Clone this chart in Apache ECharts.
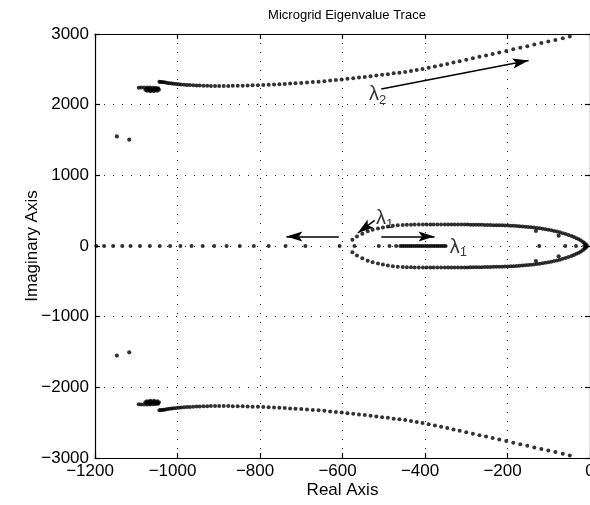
<!DOCTYPE html>
<html>
<head>
<meta charset="utf-8">
<title>Microgrid Eigenvalue Trace</title>
<script src="https://cdn.jsdelivr.net/npm/echarts@6/dist/echarts.min.js"></script>
<style>
  html, body { margin: 0; padding: 0; background: #fff; }
  #chart { width: 590px; height: 505px; }
</style>
</head>
<body>
<div id="chart"></div>
<script>
// Eigenvalue trace of the microgrid as a parameter is swept.
// Complex eigenvalues come in conjugate pairs, so only the upper half-plane
// (imaginary part >= 0) is stored; the lower half is its mirror image.

// lambda2 branch: high-frequency mode moving right as the parameter grows
const lambda2Branch = [
  [-49,2963],[-66,2940],[-84,2916],[-101,2894],[-118,2872],[-135,2850],[-152,2827],
  [-169,2805],[-186,2783],[-203,2761],[-220,2739],[-236,2718],[-252,2697],[-268,2677],
  [-284,2657],[-300,2637],[-316,2616],[-331,2597],[-346,2577],[-361,2559],[-376,2540],
  [-391,2522],[-406,2504],[-420,2490],[-434,2477],[-448,2464],[-462,2453],[-476,2443],
  [-490,2432],[-504,2422],[-518,2412],[-532,2403],[-546,2393],[-560,2384],[-574,2375],
  [-588,2366],[-602,2357],[-616,2349],[-630,2341],[-644,2333],[-658,2326],[-672,2320],
  [-686,2314],[-700,2308],[-714,2303],[-727,2298],[-740,2294],[-753,2289],[-766,2286],
  [-779,2282],[-792,2278],[-805,2275],[-818,2273],[-830,2271],[-842,2269],[-854,2267],
  [-866,2266],[-877,2265],[-888,2264],[-899,2264],[-909,2265],[-919,2265],[-928,2266],
  [-937,2268],[-946,2270],[-954,2272],[-962,2274],[-970,2277],[-977,2280],[-984,2283],
  [-991,2286],[-997,2289],[-1003,2293],[-1009,2297],[-1014,2300],[-1019,2304],
  [-1024,2308],[-1029,2312],[-1033,2316],[-1037,2319],[-1041,2322],[-1044,2325]
];

// small cluster of modes that barely move, near -1060 +/- j2220
const clusterModes = [
  [-1094,2240],[-1088,2242],[-1081,2243],[-1074,2243],[-1067,2242],[-1060,2240],
  [-1053,2237],[-1047,2233],[-1078,2212],[-1074,2198],[-1066,2190],[-1057,2189],
  [-1049,2196],[-1045,2210],[-1048,2224],[-1056,2229],[-1066,2229],[-1074,2224],
  [-1070,2207],[-1062,2202],[-1054,2207],[-1060,2216],[-1068,2216],[-1052,2217]
];

// two stationary modes near -1130 +/- j1530
const fixedModes = [[-1147,1551],[-1117,1504]];

// real eigenvalues on the negative real axis
const realModes = [
  -1197,-1178,-1156,-1134,-1114,-1091,-1067,-1043,-1018,-993,-966,-939,-911,-881,
  -849,-815,-779,-738,-690,-607,-571,-512,-486,-470,-460,-455,-450,-445,-440,-435,
  -430,-425,-420,-415,-410,-405,-400,-395,-390,-385,-380,-375,-370,-365,-360,-355,
  -350,-123,-60,-34,-14
];

// lambda1 loop: pair that splits off the real axis near -575 and closes near 0
const lambda1Loop = [
  [-576,89],[-565,136],[-552,174],[-539,207],[-527,231],[-514,249],[-502,263],
  [-490,277],[-478,287],[-466,292],[-454,297],[-444,300],[-434,302],[-425,303],
  [-415,304],[-405,305],[-396,305],[-387,305],[-379,305],[-370,305],[-361,305],
  [-352,305],[-344,305],[-336,305],[-328,304],[-320,304],[-312,304],[-304,303],
  [-297,303],[-290,302],[-283,302],[-276,301],[-269,300],[-262,299],[-255,298],
  [-248,297],[-241,296],[-234,295],[-227,294],[-220,293],[-213,292],[-206,291],
  [-199,290],[-192,288],[-185,286],[-178,283],[-171,280],[-164,277],[-157,273],
  [-150,269],[-143,265],[-136,261],[-129,256],[-122,250],[-115,244],[-108,237],
  [-101,230],[-94,222],[-87,213],[-80,204],[-73,193],[-66,182],[-59,169],[-52,155],
  [-45,140],[-39,126],[-33,111],[-27,94],[-22,77],[-17,58],[-13,40],[-10,22],[-8,6]
];

// lightly damped pair inside the loop
const innerModes = [[-131,212],[-76,146]];

// direction arrows: [from, to] in (real, imaginary)
const arrowPaths = [
  [[-506,2222],[-149,2626]],
  [[-609,136],[-736,136]],
  [[-522,362],[-563,184]],
  [[-506,136],[-377,136]]
];

// mode labels: position and subscript
const modeLabels = [
  { at: [-515,2141], sub: '2' },
  { at: [-498,386], sub: '1' },
  { at: [-319,-17], sub: '1' }
];

const xTicks = [-1200,-1000,-800,-600,-400,-200,0];
const xTickLabels = ['\u22121200','\u22121000','\u2212800','\u2212600','\u2212400','\u2212200','0'];
const yTicks = [-3000,-2000,-1000,0,1000,2000,3000];
const yTickLabels = ['\u22123000','\u22122000','\u22121000','0','1000','2000','3000'];

const FONT = '"Liberation Sans", Arial, Helvetica, sans-serif';

const withConjugates = pts => pts.concat(pts.filter(p => p[1] !== 0).map(p => [p[0], -p[1]]));

// arrowhead with its tip at the centre of the symbol box
const ARROW_HEAD = 'path://M5,-16M5,0L10,16L5,12.5L0,16Z';

function dotSeries(points, size) {
  return {
    type: 'scatter',
    data: points,
    symbol: 'circle',
    symbolSize: size,
    itemStyle: { color: '#000' },
    silent: true,
    animation: false,
    z: 3
  };
}

const xLabelOf = v => {
  const i = xTicks.indexOf(v);
  const t = i >= 0 ? xTickLabels[i] : String(v);
  // keep the digits centred under the tick; the minus sign hangs to the left
  return v < 0 ? t + '{p|\u2212}' : t;
};
const yLabelOf = v => {
  const i = yTicks.indexOf(v);
  return i >= 0 ? yTickLabels[i] : String(v);
};

const axisLineStyle = { color: '#000', width: 1.2 };
const gridLineStyle = { color: '#222', width: 1, type: [1, 8] };

const option = {
  backgroundColor: '#fff',
  animation: false,
  title: {
    text: 'Microgrid Eigenvalue Trace',
    left: 342,
    top: 4,
    textAlign: 'center',
    textStyle: { fontFamily: FONT, fontSize: 13, fontWeight: 'normal', color: '#000' }
  },
  grid: { left: 95, top: 34, width: 495, height: 424, containLabel: false, outerBoundsMode: 'none' },
  xAxis: [
    {
      type: 'value', min: -1200, max: 0, interval: 200,
      name: 'Real Axis', nameLocation: 'middle', nameGap: 24, nameMoveOverlap: false,
      nameTextStyle: { fontFamily: FONT, fontSize: 17, color: '#000' },
      axisLine: { show: true, onZero: false, lineStyle: axisLineStyle },
      axisTick: { show: true, inside: true, length: 5, lineStyle: axisLineStyle },
      axisLabel: {
        interval: 0, margin: 5, showMinLabel: true, showMaxLabel: true,
        fontFamily: FONT, fontSize: 17, color: '#000',
        formatter: xLabelOf,
        rich: { p: { fontFamily: FONT, fontSize: 17, color: 'rgba(0,0,0,0)' } }
      },
      splitLine: { show: true, lineStyle: gridLineStyle }
    },
    {
      type: 'value', min: -1200, max: 0, interval: 200, position: 'top',
      axisLine: { show: true, onZero: false, lineStyle: axisLineStyle },
      axisTick: { show: true, inside: true, length: 5, lineStyle: axisLineStyle },
      axisLabel: { show: false },
      splitLine: { show: false }
    }
  ],
  yAxis: [
    {
      type: 'value', min: -3000, max: 3000, interval: 1000,
      name: 'Imaginary Axis', nameLocation: 'middle', nameGap: 54, nameMoveOverlap: false,
      nameTextStyle: { fontFamily: FONT, fontSize: 17, color: '#000' },
      axisLine: { show: true, onZero: false, lineStyle: axisLineStyle },
      axisTick: { show: true, inside: true, length: 5, lineStyle: axisLineStyle },
      axisLabel: {
        interval: 0, margin: 6, showMinLabel: true, showMaxLabel: true,
        fontFamily: FONT, fontSize: 17, color: '#000',
        formatter: yLabelOf
      },
      splitLine: { show: true, lineStyle: gridLineStyle }
    },
    {
      type: 'value', min: -3000, max: 3000, interval: 1000, position: 'right',
      axisLine: { show: true, onZero: false, lineStyle: axisLineStyle },
      axisTick: { show: true, inside: true, length: 5, lineStyle: axisLineStyle },
      axisLabel: { show: false },
      splitLine: { show: false }
    }
  ],
  series: [
    dotSeries(withConjugates(lambda2Branch), 4),
    dotSeries(withConjugates(clusterModes), 4),
    dotSeries(withConjugates(fixedModes), 4.2),
    dotSeries(realModes.map(r => [r, 0]), 4),
    dotSeries(withConjugates(lambda1Loop), 4),
    dotSeries(withConjugates(innerModes), 4.2),
    {
      type: 'lines',
      coordinateSystem: 'cartesian2d',
      data: arrowPaths.map(c => ({ coords: c })),
      symbol: ['none', ARROW_HEAD],
      symbolSize: [0, [10, 32]],
      lineStyle: { color: '#000', width: 1.5, opacity: 1, curveness: 0 },
      silent: true,
      animation: false,
      z: 4
    },
    {
      type: 'scatter',
      data: modeLabels.map(m => ({ value: m.at, sub: m.sub })),
      symbolSize: 0,
      silent: true,
      animation: false,
      z: 5,
      label: {
        show: true,
        position: 'inside',
        formatter: p => '{l|\u03bb}{s|' + p.data.sub + '}',
        rich: {
          l: { fontFamily: FONT, fontSize: 20, lineHeight: 20, color: '#000', verticalAlign: 'top' },
          s: { fontFamily: FONT, fontSize: 13, lineHeight: 13, color: '#000', verticalAlign: 'top', padding: [9, 0, 0, 0] }
        }
      }
    }
  ]
};

const chart = echarts.init(document.getElementById('chart'), null, { renderer: 'canvas' });
chart.setOption(option);
</script>
</body>
</html>
